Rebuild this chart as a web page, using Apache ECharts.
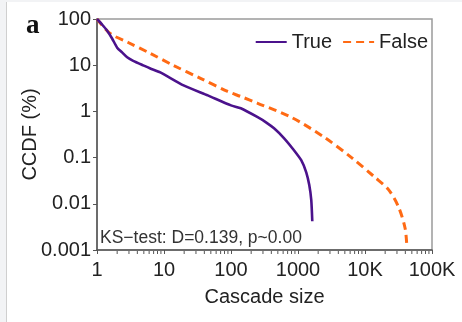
<!DOCTYPE html>
<html>
<head>
<meta charset="utf-8">
<script src="https://cdn.jsdelivr.net/npm/echarts@6/dist/echarts.min.js"></script>
<style>
html,body{margin:0;padding:0;background:#fff;}
#chart{width:462px;height:322px;}
</style>
</head>
<body>
<div id="chart"></div>
<script>
// Data (cascade size vs CCDF %)
var trueSize = [1, 1.19, 1.41, 1.68, 2, 2.37, 2.82, 3.47, 4.9, 6.25, 8.8, 19.6, 45, 100, 140, 250, 333, 439, 621, 847, 1117, 1327, 1473, 1578, 1634];
var trueCcdf = [100, 76, 56.5, 37.9, 24, 18.9, 14.8, 12.4, 9.9, 8.5, 7.0, 3.66, 2.22, 1.35, 1.17, 0.75, 0.58, 0.43, 0.262, 0.152, 0.088, 0.048, 0.0254, 0.012, 0.0042];
var falseSize = [1, 1.57, 2.92, 6.25, 13.8, 35, 89, 140, 250, 790, 2470, 6300, 13900, 22600, 31700, 39600, 42000];
var falseCcdf = [100, 48.6, 31, 18, 9.9, 5.2, 2.7, 2.1, 1.5, 0.75, 0.275, 0.10, 0.038, 0.020, 0.0085, 0.003, 0.0013];

var xTickValues = [1, 10, 100, 1000, 10000, 100000];
var xTickLabels = ['1', '10', '100', '1000', '10K', '100K'];
var yTickValues = [0.001, 0.01, 0.1, 1, 10, 100];
var yTickLabels = ['0.001', '0.01', '0.1', '1', '10', '100'];
var minorMultipliers = [2, 3, 4, 5, 6, 7, 8, 9];

var seriesNames = ['True', 'False'];
var annotation = 'KS\u2212test: D=0.139, p~0.00';

function pair(xs, ys) { return xs.map(function (x, i) { return [x, ys[i]]; }); }
function labelFor(values, labels, v) {
  var lv = Math.round(Math.log10(v));
  for (var i = 0; i < values.length; i++) {
    if (Math.round(Math.log10(values[i])) === lv) return labels[i];
  }
  return '';
}
var minorTicks = [];
for (var d = 0; d < xTickValues.length - 1; d++) {
  minorMultipliers.forEach(function (m) { minorTicks.push([xTickValues[d] * m, yTickValues[0]]); });
}

var FONT = '"Liberation Sans", Arial, sans-serif';
var chart = echarts.init(document.getElementById('chart'), null, {renderer: 'canvas'});
chart.setOption({
  animation: false,
  backgroundColor: '#ffffff',
  grid: {left: 97, right: 30, top: 19, bottom: 72, show: true, borderColor: '#9a9a9a', borderWidth: 1.5, backgroundColor: 'transparent'},
  legend: {
    data: seriesNames,
    right: 34, top: 32, padding: 0, itemGap: 10, itemWidth: 31, itemHeight: 12,
    itemStyle: {color: 'transparent', borderWidth: 0, opacity: 0},
    textStyle: {fontFamily: FONT, fontSize: 20, color: '#222'}
  },
  xAxis: {
    type: 'log', logBase: 10, min: 1, max: 100000,
    name: 'Cascade size', nameLocation: 'middle', nameGap: 37,
    nameTextStyle: {fontFamily: FONT, fontSize: 20, color: '#222'},
    axisLine: {show: true, lineStyle: {color: '#555', width: 1.5}},
    axisTick: {show: true, length: 4, inside: false, lineStyle: {color: '#555'}},
    axisLabel: {margin: 10, fontFamily: FONT, fontSize: 20, color: '#222',
      formatter: function (v) { return labelFor(xTickValues, xTickLabels, v); }},
    splitLine: {show: false}
  },
  yAxis: {
    type: 'log', logBase: 10, min: 0.001, max: 100,
    name: 'CCDF (%)', nameLocation: 'middle', nameGap: 57, nameMoveOverlap: false,
    nameTextStyle: {fontFamily: FONT, fontSize: 20, color: '#222'},
    axisLine: {show: true, lineStyle: {color: '#555', width: 1.5}},
    axisTick: {show: true, length: 4, inside: false, lineStyle: {color: '#555'}},
    axisLabel: {margin: 6, fontFamily: FONT, fontSize: 20, color: '#222',
      formatter: function (v) { return labelFor(yTickValues, yTickLabels, v); }},
    splitLine: {show: false}
  },
  series: [
    {
      name: seriesNames[0], type: 'line', data: pair(trueSize, trueCcdf),
      showSymbol: false, symbol: 'none', smooth: 0.2,
      lineStyle: {color: '#4b128c', width: 2.6, type: 'solid'},
      itemStyle: {color: '#4b128c'}, z: 3
    },
    {
      name: seriesNames[1], type: 'line', data: pair(falseSize, falseCcdf),
      showSymbol: false, symbol: 'none', smooth: 0.3,
      lineStyle: {color: '#ff6a14', width: 3, type: [8, 5]},
      itemStyle: {color: '#ff6a14'}, z: 2
    },
    {
      type: 'custom', data: minorTicks, silent: true, clip: false, z: 5,
      renderItem: function (params, api) {
        var p = api.coord([api.value(0), api.value(1)]);
        return {type: 'line', shape: {x1: p[0], y1: p[1] + 1, x2: p[0], y2: p[1] + 4},
          style: {stroke: '#555', lineWidth: 1}};
      }
    }
  ],
  graphic: [
    {type: 'rect', left: 0, top: 0, shape: {width: 6, height: 322}, style: {fill: '#f2f3f5'}, silent: true},
    {type: 'rect', left: 0, top: 0, shape: {width: 462, height: 2}, style: {fill: '#f2f3f5'}, silent: true},
    {type: 'line', shape: {x1: 6.5, y1: 2, x2: 6.5, y2: 322}, style: {stroke: '#cfcfcf', lineWidth: 1}, silent: true},
    {type: 'text', left: 26, top: 13, style: {text: 'a', font: 'bold 27px "Liberation Serif", "DejaVu Serif", serif', fill: '#111'}, silent: true},
    {type: 'text', left: 100, top: 229, style: {text: annotation, font: '17.5px "Liberation Sans", Arial, sans-serif', fill: '#333'}, silent: true, z: 10}
  ]
});
</script>
</body>
</html>
